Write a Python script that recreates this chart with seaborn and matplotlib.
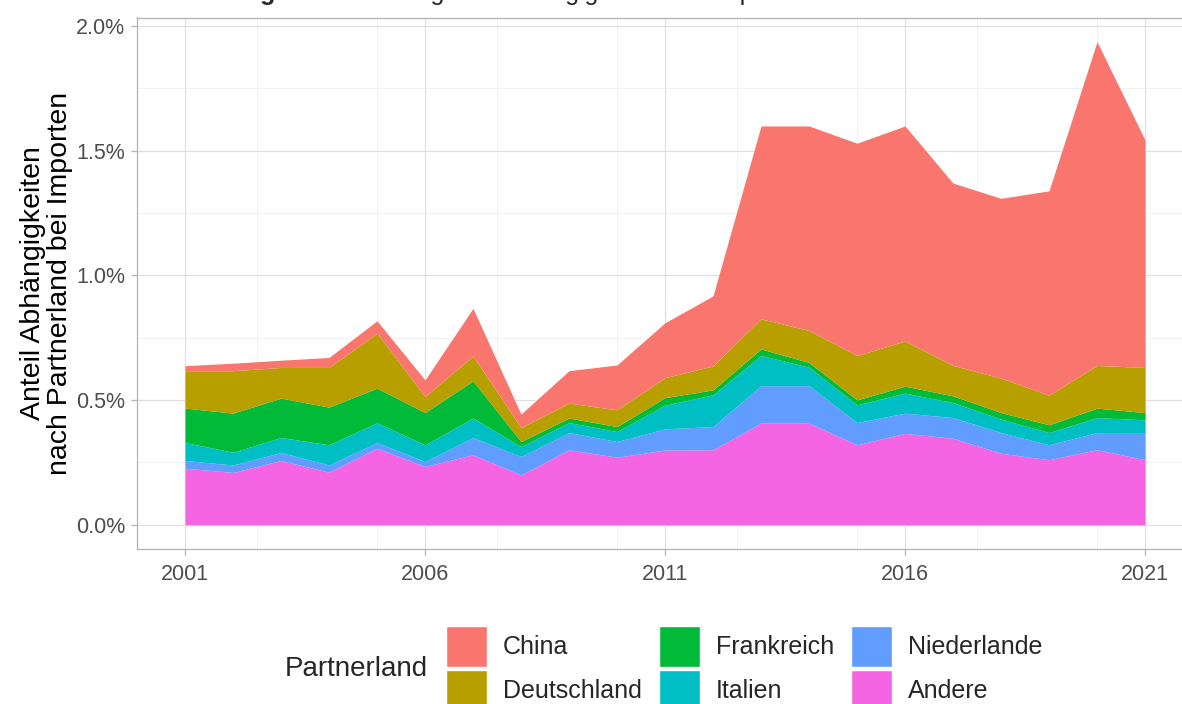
import numpy as np
import pandas as pd
import matplotlib
matplotlib.use("Agg")
import matplotlib.pyplot as plt
import seaborn as sns
from matplotlib.patches import Patch
from matplotlib.ticker import FuncFormatter, MultipleLocator

# ---- data (percent of imports) ----
years = list(range(2001, 2022))
partners = ["China", "Deutschland", "Frankreich", "Italien", "Niederlande", "Andere"]
andere = [0.227, 0.210, 0.258, 0.211, 0.307, 0.234, 0.281, 0.200, 0.301, 0.271, 0.300,
          0.301, 0.408, 0.408, 0.321, 0.367, 0.347, 0.287, 0.261, 0.301, 0.261]
niederlande = [0.031, 0.030, 0.032, 0.029, 0.023, 0.020, 0.069, 0.074, 0.069, 0.063, 0.085,
               0.093, 0.150, 0.150, 0.089, 0.081, 0.083, 0.083, 0.060, 0.069, 0.109]
italien = [0.072, 0.051, 0.060, 0.081, 0.079, 0.067, 0.078, 0.040, 0.040, 0.040, 0.095,
           0.127, 0.121, 0.074, 0.071, 0.080, 0.060, 0.054, 0.049, 0.060, 0.051]
frankreich = [0.138, 0.157, 0.158, 0.151, 0.139, 0.129, 0.149, 0.020, 0.018, 0.020, 0.030,
              0.020, 0.026, 0.019, 0.020, 0.028, 0.027, 0.026, 0.031, 0.038, 0.029]
deutschland = [0.150, 0.170, 0.123, 0.159, 0.220, 0.064, 0.100, 0.056, 0.060, 0.067, 0.080,
               0.096, 0.121, 0.128, 0.178, 0.181, 0.122, 0.138, 0.119, 0.171, 0.181]
china = [0.020, 0.030, 0.029, 0.040, 0.050, 0.067, 0.191, 0.054, 0.130, 0.180, 0.220,
         0.281, 0.773, 0.820, 0.851, 0.862, 0.731, 0.721, 0.819, 1.298, 0.912]
x_ticks = [2001, 2006, 2011, 2016, 2021]
y_ticks = [0.0, 0.5, 1.0, 1.5, 2.0]
title_bold = "Abbildung 3:"
title_rest = "Entwicklung der Abhängigkeiten bei Importen nach Partnerland"
y_label = "Anteil Abhängigkeiten\nnach Partnerland bei Importen"
legend_title = "Partnerland"

colors = ["#F8766D", "#B79F00", "#00BA38", "#00BFC4", "#619CFF", "#F564E3"]

df = pd.DataFrame({"Jahr": years, "China": china, "Deutschland": deutschland,
                   "Frankreich": frankreich, "Italien": italien,
                   "Niederlande": niederlande, "Andere": andere})
long = df.melt(id_vars="Jahr", var_name="Partnerland", value_name="Anteil")
wide = long.pivot(index="Jahr", columns="Partnerland", values="Anteil")

sns.set_theme(style="whitegrid")
plt.rcParams["font.family"] = ["Liberation Sans", "DejaVu Sans"]
palette = dict(zip(partners, sns.color_palette(colors)))

W, H = 1182, 704
fig = plt.figure(figsize=(W / 100, H / 100), dpi=100)
fig.patch.set_facecolor("white")

left, right, top, bottom = 137, 1193, 17.5, 549
ax = fig.add_axes([left / W, 1 - bottom / H, (right - left) / W, (bottom - top) / H])
ax.set_facecolor("white")

stack_order = partners[::-1]  # bottom -> top
ax.stackplot(wide.index.values, [wide[p].values for p in stack_order],
             colors=[palette[p] for p in stack_order], linewidth=0, zorder=2)

ymax = 1.937
ax.set_xlim(2000, 2022)
ax.set_ylim(-0.05 * ymax, ymax * 1.05)
ax.set_xticks(x_ticks)
ax.set_yticks(y_ticks)
ax.xaxis.set_minor_locator(MultipleLocator(2.5))
ax.yaxis.set_minor_locator(MultipleLocator(0.25))
ax.yaxis.set_major_formatter(FuncFormatter(lambda v, p: f"{v:.1f}%"))

ax.set_axisbelow(True)
ax.grid(True, which="major", color="#e0e0e0", linewidth=0.9)
ax.grid(True, which="minor", color="#efefef", linewidth=0.6)
for s in ax.spines.values():
    s.set_visible(True)
    s.set_color("#b3b3b3")
    s.set_linewidth(0.9)
ax.tick_params(axis="both", which="major", length=4.5, width=0.9, color="#b3b3b3",
               labelcolor="#4d4d4d", labelsize=15.5, bottom=True, left=True)
ax.tick_params(axis="x", which="major", pad=6)
ax.tick_params(axis="y", which="major", pad=4)
ax.tick_params(axis="both", which="minor", length=0)

ax.set_ylabel(y_label, fontsize=20.5, color="black", linespacing=1.05, labelpad=2)
ax.set_xlabel("")

# title, cut off at the top like the reference
t1 = fig.text(152 / W, 1.0, title_bold, fontsize=18, fontweight="bold",
              ha="left", va="baseline")
fig.canvas.draw()
bb = t1.get_window_extent()
fig.text((bb.x1 + 6) / W, 1.0, title_rest, fontsize=18, ha="left", va="baseline")

# legend
handles = [Patch(facecolor=palette[p], edgecolor="white", linewidth=1.0) for p in partners]
fs = 18
px = fs * 100 / 72
key_h = 41
hh = (key_h - 0.35 * 0.7 * px) / (0.65 * px)
fig.legend(handles, partners, ncol=3, loc="upper left",
           bbox_to_anchor=(446 / W, 1 - 626 / H), frameon=False, fontsize=fs,
           handlelength=41 / px, handleheight=hh, labelspacing=3 / px,
           borderpad=0, borderaxespad=0, handletextpad=16 / px, columnspacing=17 / px)
fig.text(285 / W, 1 - 669 / H, legend_title, fontsize=20, ha="left", va="center")

fig.savefig("out.png", dpi=100, facecolor="white")
